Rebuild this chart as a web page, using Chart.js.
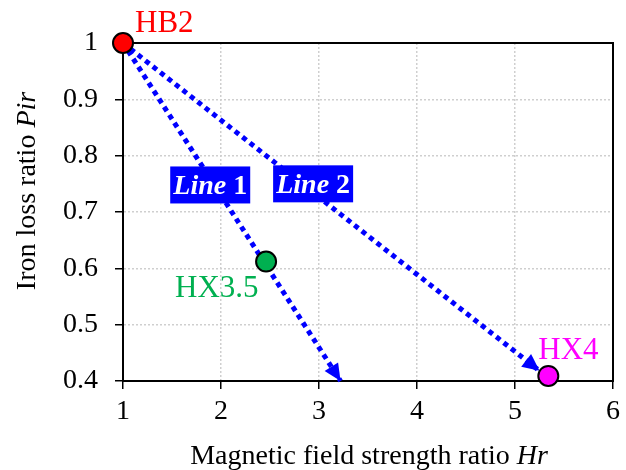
<!DOCTYPE html>
<html>
<head>
<meta charset="utf-8">
<script src="https://cdn.jsdelivr.net/npm/chart.js@4.4.0/dist/chart.umd.min.js"></script>
<style>
    html, body { margin: 0; padding: 0; background: #fff; }
</style>
</head>
<body>
<canvas id="chart" width="626" height="470"></canvas>
<script>
// operating points
const pointNames = ['HB2', 'HX3.5', 'HX4'];
const hrValues = [1, 2.46, 5.34];
const pirValues = [1, 0.612, 0.409];
const pointColors = ['#ff0000', '#00b050', '#ff00ff'];

// arrows (start -> tip)
const line1Hr = [1, 3.22];
const line1Pir = [1, 0.4];
const line2Hr = [1, 5.25];
const line2Pir = [1, 0.418];

// arrow captions, anchored in data units
const lineNames = ['1', '2'];
const lineLabelHr = [1.89, 2.94];
const lineLabelPir = [0.748, 0.75];

const xTicks = [1, 2, 3, 4, 5, 6];
const yTicks = [0.4, 0.5, 0.6, 0.7, 0.8, 0.9, 1];

const SERIF = "'Liberation Serif', 'Times New Roman', serif";
// label offsets from the point centre, px
const labelOffsets = [[12, -11], [-91, 35], [-10, -17]];

const toXY = (xs, ys) => xs.map((x, i) => ({ x: x, y: ys[i] }));

/**
 * Draws a run of differently styled text pieces starting at x
 */
function drawRuns(ctx, runs, x, y) {
    runs.forEach((r) => {
        ctx.font = r.font;
        ctx.fillText(r.text, x, y);
        x += ctx.measureText(r.text).width;
    });
}

function runsWidth(ctx, runs) {
    let w = 0;
    runs.forEach((r) => {
        ctx.font = r.font;
        w += ctx.measureText(r.text).width;
    });
    return w;
}

const decorations = {
    id: 'decorations',
    beforeDatasetsDraw(chart) {
        const { ctx, chartArea: a } = chart;
        ctx.save();
        ctx.strokeStyle = '#000';
        ctx.lineWidth = 2;
        ctx.strokeRect(a.left, a.top, a.right - a.left, a.bottom - a.top);
        ctx.restore();
    },
    afterDatasetDraw(chart, args) {
        if (args.index === 0) return;
        const pts = args.meta.data;
        const tip = pts[pts.length - 1];
        const from = pts[pts.length - 2];
        const ang = Math.atan2(tip.y - from.y, tip.x - from.x);
        const len = 17, half = 8;
        const ctx = chart.ctx;
        ctx.save();
        ctx.translate(tip.x, tip.y);
        ctx.rotate(ang);
        ctx.fillStyle = '#0000ff';
        ctx.beginPath();
        ctx.moveTo(0, 0);
        ctx.lineTo(-len, -half);
        ctx.lineTo(-len, half);
        ctx.closePath();
        ctx.fill();
        ctx.restore();
    },
    afterDatasetsDraw(chart) {
        const ctx = chart.ctx;
        const xs = chart.scales.x, ys = chart.scales.y;
        ctx.save();
        // Line 1 / Line 2 captions
        lineNames.forEach((n, i) => {
            const cx = xs.getPixelForValue(lineLabelHr[i]);
            const cy = ys.getPixelForValue(lineLabelPir[i]);
            ctx.fillStyle = '#0000ff';
            ctx.fillRect(cx - 40, cy - 18.5, 80, 37);
            const runs = [
                { text: 'Line', font: 'italic bold 28px ' + SERIF },
                { text: ' ' + n, font: 'bold 28px ' + SERIF },
            ];
            ctx.fillStyle = '#fff';
            ctx.textBaseline = 'alphabetic';
            drawRuns(ctx, runs, cx - runsWidth(ctx, runs) / 2, cy + 9.5);
        });
        // point names
        ctx.font = '31px ' + SERIF;
        ctx.textAlign = 'left';
        pointNames.forEach((n, i) => {
            ctx.fillStyle = pointColors[i];
            ctx.fillText(
                n,
                xs.getPixelForValue(hrValues[i]) + labelOffsets[i][0],
                ys.getPixelForValue(pirValues[i]) + labelOffsets[i][1]
            );
        });
        ctx.restore();
    },
    afterDraw(chart) {
        const ctx = chart.ctx;
        const a = chart.chartArea;
        ctx.save();
        ctx.fillStyle = '#000';
        ctx.textBaseline = 'alphabetic';
        const xRuns = [
            { text: 'Magnetic field strength ratio ', font: '28px ' + SERIF },
            { text: 'Hr', font: 'italic 28px ' + SERIF },
        ];
        drawRuns(ctx, xRuns, (a.left + a.right) / 2 + 1 - runsWidth(ctx, xRuns) / 2, 464);
        const yRuns = [
            { text: 'Iron loss ratio ', font: '28px ' + SERIF },
            { text: 'Pir', font: 'italic 28px ' + SERIF },
        ];
        ctx.translate(35, 191);
        ctx.rotate(-Math.PI / 2);
        drawRuns(ctx, yRuns, -runsWidth(ctx, yRuns) / 2, 0);
        ctx.restore();
    },
};

const axisCommon = {
    type: 'linear',
    ticks: {
        color: '#000',
        font: { family: SERIF, size: 28 },
        callback: (v) => String(v),
    },
    grid: {
        color: '#cfcfcf',
        lineWidth: 1.5,
        tickColor: '#000',
        tickWidth: 1.5,
        tickLength: 8,
    },
    border: { display: true, color: '#000', width: 2, dash: [2, 2] },
};

new Chart('chart', {
    type: 'scatter',
    data: {
        datasets: [
            {
                label: 'points',
                data: toXY(hrValues, pirValues),
                pointRadius: 10,
                pointBackgroundColor: pointColors,
                pointBorderColor: '#000',
                pointBorderWidth: 2,
                showLine: false,
                clip: false,
            },
            {
                label: 'Line 1',
                data: toXY(line1Hr, line1Pir),
                showLine: true,
                borderColor: '#0000ff',
                borderWidth: 5,
                borderDash: [5, 4.5],
                pointRadius: 0,
                clip: false,
            },
            {
                label: 'Line 2',
                data: toXY(line2Hr, line2Pir),
                showLine: true,
                borderColor: '#0000ff',
                borderWidth: 5,
                borderDash: [5, 4.5],
                pointRadius: 0,
                clip: false,
            },
        ],
    },
    options: {
        responsive: false,
        animation: false,
        devicePixelRatio: 1,
        layout: { padding: { top: 43, right: 13, left: 0, bottom: 0 } },
        plugins: {
            legend: { display: false },
            tooltip: { enabled: false },
        },
        scales: {
            x: {
                ...axisCommon,
                min: 1,
                max: 6,
                ticks: { ...axisCommon.ticks, padding: 6, maxRotation: 0 },
                afterBuildTicks: (s) => { s.ticks = xTicks.map((v) => ({ value: v })); },
                afterFit: (s) => { s.height = 89; },
            },
            y: {
                ...axisCommon,
                min: 0.4,
                max: 1,
                ticks: { ...axisCommon.ticks, padding: 17 },
                afterBuildTicks: (s) => { s.ticks = yTicks.map((v) => ({ value: v })); },
                afterFit: (s) => { s.width = 123; },
            },
        },
    },
    plugins: [decorations],
});
</script>
</body>
</html>
